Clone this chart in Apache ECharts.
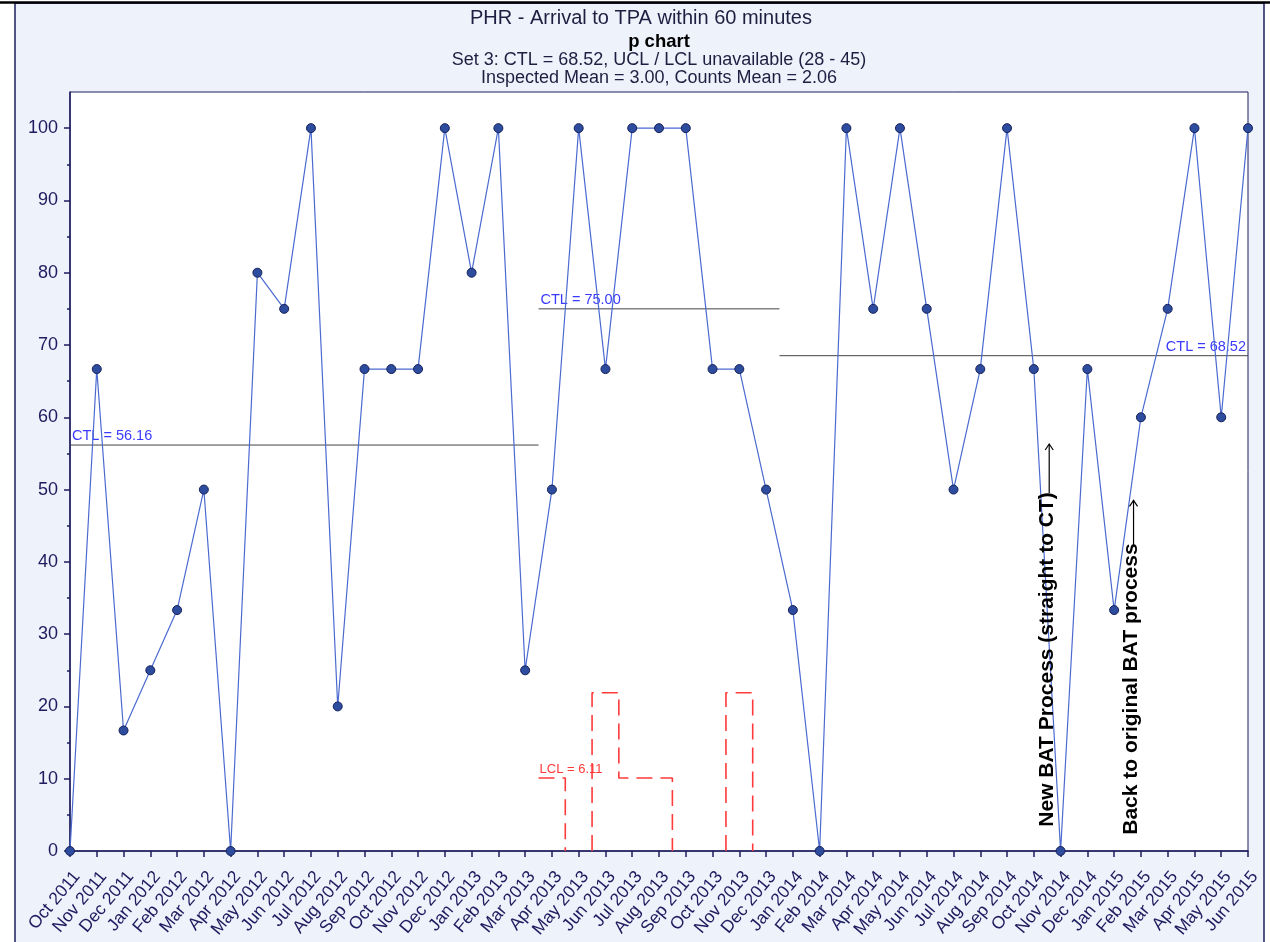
<!DOCTYPE html>
<html>
<head>
<meta charset="utf-8">
<script src="https://cdn.jsdelivr.net/npm/echarts@6/dist/echarts.min.js"></script>
<style>
html,body{margin:0;padding:0;background:#fff;}
#chart{width:1270px;height:942px;}
</style>
</head>
<body>
<div id="chart"></div>
<script>
// ---- data ----
const months = ['Oct 2011','Nov 2011','Dec 2011','Jan 2012','Feb 2012','Mar 2012','Apr 2012','May 2012','Jun 2012','Jul 2012','Aug 2012','Sep 2012','Oct 2012','Nov 2012','Dec 2012','Jan 2013','Feb 2013','Mar 2013','Apr 2013','May 2013','Jun 2013','Jul 2013','Aug 2013','Sep 2013','Oct 2013','Nov 2013','Dec 2013','Jan 2014','Feb 2014','Mar 2014','Apr 2014','May 2014','Jun 2014','Jul 2014','Aug 2014','Sep 2014','Oct 2014','Nov 2014','Dec 2014','Jan 2015','Feb 2015','Mar 2015','Apr 2015','May 2015','Jun 2015'];
const values = [0,66.67,16.67,25,33.33,50,0,80,75,100,20,66.67,66.67,66.67,100,80,100,25,50,100,66.67,100,100,100,66.67,66.67,50,33.33,0,100,75,100,75,50,66.67,100,66.67,0,66.67,33.33,60,75,100,60,100];
const setFirstMonth = ['Oct 2011','Apr 2013','Jan 2014'];
const setLastMonth  = ['Mar 2013','Dec 2013','Jun 2015'];
const setCtl = [56.16, 75.00, 68.52];
const setCtlLabel = ['CTL = 56.16','CTL = 75.00','CTL = 68.52'];
const lclMonths = ['Apr 2013','May 2013','Jun 2013','Jul 2013','Aug 2013','Sep 2013','Oct 2013','Nov 2013','Dec 2013'];
const lclValues = [10.1, 0, 21.9, 10.1, 10.1, 0, 0, 21.9, 0];
const lclLabel = 'LCL = 6.11';
const yTicks = [0,10,20,30,40,50,60,70,80,90,100];
const yMinorTicks = [5,15,25,35,45,55,65,75,85,95];
const titleLines = ['PHR - Arrival to TPA within 60 minutes','p chart','Set 3: CTL = 68.52, UCL / LCL unavailable (28 - 45)','Inspected Mean = 3.00, Counts Mean = 2.06'];
const notes = [
  {text:'New BAT Process (straight to CT)', idx:36.5, textY:26.5, arrowFrom:49.5, arrowTo:56.3},
  {text:'Back to original BAT process', idx:39.65, textY:22.4, arrowFrom:42.3, arrowTo:48.5}
];

// ---- build ----
const NAVY = '#1c1c5e';
const FONT = 'Liberation Sans, Arial, sans-serif';
const last = months.length - 1;
const ctlSeries = setCtl.map((c, k) => {
  const s = Math.max(months.indexOf(setFirstMonth[k]) - 0.5, 0);
  const e = Math.min(months.indexOf(setLastMonth[k]) + 0.5, last);
  const isLast = k === setCtl.length - 1;
  const lab = {show:true, formatter:setCtlLabel[k], position:'top', align: isLast ? 'right' : 'left', distance:1,
               offset:[isLast ? -2 : 2, 0], color:'#3b3bff', fontSize:14.5, fontFamily:FONT};
  return {
    type:'line', xAxisIndex:1, yAxisIndex:0, symbol:'circle', symbolSize:1, silent:true,
    itemStyle:{color:'rgba(0,0,0,0)'}, lineStyle:{color:'#444', width:1}, z:3,
    data:[ {value:[s,c], label: isLast ? {show:false} : lab}, {value:[e,c], label: isLast ? lab : {show:false}} ]
  };
});

// LCL step polylines, skipping zero-level runs
const lclPolys = [];
let cur = null, prev = null;
lclMonths.forEach((m, j) => {
  const i = months.indexOf(m), v = lclValues[j];
  if (v > 0) {
    if (!cur) { cur = []; if (prev !== null) cur.push([i-0.5, 0]); }
    else cur.push([i-0.5, v]);
    if (cur.length === 0 || prev === null || prev === 0) cur.push([i-0.5, v]);
    cur.push([i+0.5, v]);
  } else {
    if (cur) { cur.push([i-0.5, 0]); lclPolys.push(cur); cur = null; }
  }
  prev = v;
});
if (cur) lclPolys.push(cur);
const lclSeries = lclPolys.map((p, k) => ({
  type:'line', xAxisIndex:1, yAxisIndex:0, symbol:'circle', symbolSize:1, silent:true,
  itemStyle:{color:'rgba(0,0,0,0)'}, lineStyle:{color:'#ff3a3a', width:1.6, type:[16,8]}, z:2,
  data: p.map((pt, q) => (k === 0 && q === 0) ? {value:pt, label:{show:true, formatter:lclLabel, position:'top', align:'left', distance:2, offset:[1,0], color:'#ff3a3a', fontSize:13, fontFamily:FONT}} : {value:pt})
}));

const titleTops = [8, 32, 51, 69];
const titleSizes = [20, 18.5, 18, 18];
const titleLefts = [641, 659, 659, 659];
const titles = titleLines.map((t, k) => ({
  text:t, left:titleLefts[k], top:titleTops[k], textAlign:'center', padding:0,
  textStyle:{fontFamily:FONT, fontSize:titleSizes[k], fontWeight: k === 1 ? 'bold' : 'normal', color: k === 1 ? '#000' : '#1e1e40'}
}));

const chart = echarts.init(document.getElementById('chart'));
chart.setOption({
  backgroundColor:'#ffffff',
  animation:false,
  title: titles,
  grid:{left:70, right:22, top:92, bottom:91, show:true, backgroundColor:'#ffffff', borderColor:NAVY, borderWidth:1},
  xAxis:[
    {type:'category', data:months, boundaryGap:false,
     axisLine:{lineStyle:{color:NAVY, width:1.5}},
     axisTick:{show:true, interval:0, length:6, lineStyle:{color:NAVY, width:1.5}},
     axisLabel:{interval:0, rotate:50, margin:17, verticalAlign:'top', fontSize:17.5, fontFamily:FONT, color:'#1c1c5e'},
     splitLine:{show:false}},
    {type:'value', min:0, max:last, show:false, splitLine:{show:false}}
  ],
  yAxis:[
    {type:'value', min:0, max:105, interval:10,
     axisLine:{show:true, lineStyle:{color:NAVY, width:1.5}},
     axisTick:{show:true, length:6, customValues:yTicks, lineStyle:{color:NAVY, width:1.5}},
     axisLabel:{customValues:yTicks, fontSize:18, fontFamily:FONT, color:'#1c1c5e', margin:12},
     splitLine:{show:false}},
    {type:'value', min:0, max:105, position:'left',
     axisLine:{show:false},
     axisTick:{show:true, length:3, customValues:yMinorTicks, lineStyle:{color:NAVY, width:1.5}},
     axisLabel:{show:false}, splitLine:{show:false}}
  ],
  series:[
    ...ctlSeries,
    ...lclSeries,
    {type:'line', xAxisIndex:0, yAxisIndex:0, data:values, symbol:'circle', symbolSize:9, z:5,
     lineStyle:{color:'#4a6ad0', width:1.2},
     itemStyle:{color:'#2d4c9e', borderColor:'#16215a', borderWidth:1}}
  ]
});

// frame + annotations
const g = [
  {type:'rect', shape:{x:15, y:3, width:1249, height:960}, style:{fill:'#eef2fb', stroke:NAVY, lineWidth:1.5}, z:-100, silent:true},
  {type:'line', shape:{x1:0, y1:2.5, x2:1270, y2:2.5}, style:{stroke:'#000', lineWidth:2.5}, z:-99, silent:true}
];
notes.forEach(n => {
  const c = chart.convertToPixel({xAxisIndex:1, yAxisIndex:0}, [n.idx, n.textY]);
  const a0 = chart.convertToPixel({xAxisIndex:1, yAxisIndex:0}, [n.idx, n.arrowFrom]);
  const a1 = chart.convertToPixel({xAxisIndex:1, yAxisIndex:0}, [n.idx, n.arrowTo]);
  g.push({type:'text', x:c[0], y:c[1], rotation:Math.PI/2, z:50,
          style:{text:n.text, fill:'#000', font:'bold 21px Liberation Sans, Arial, sans-serif', textAlign:'center', textVerticalAlign:'middle'}});
  g.push({type:'line', shape:{x1:a0[0]+2, y1:a0[1], x2:a1[0]+2, y2:a1[1]}, style:{stroke:'#000', lineWidth:1.2}, z:50});
  g.push({type:'polyline', shape:{points:[[a1[0]-2, a1[1]+6],[a1[0]+2, a1[1]],[a1[0]+6, a1[1]+6]]}, style:{stroke:'#000', lineWidth:1.2, fill:null}, z:50});
});
chart.setOption({graphic:g});
</script>
</body>
</html>
